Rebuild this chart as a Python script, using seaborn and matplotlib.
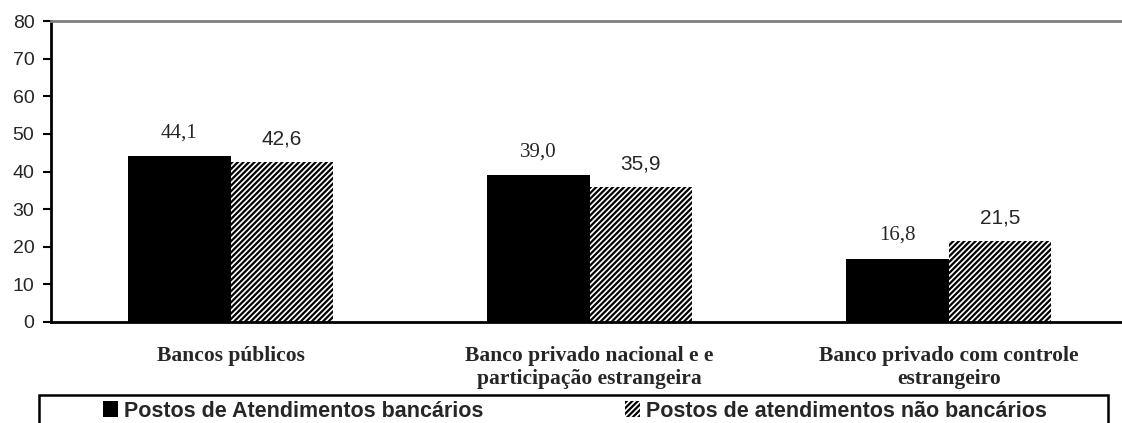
import pandas as pd
import matplotlib.pyplot as plt
import seaborn as sns
from matplotlib.patches import Patch, Rectangle

# dados
categorias = ['Bancos públicos',
              'Banco privado nacional e e\nparticipação estrangeira',
              'Banco privado com controle\nestrangeiro']
series = ['Postos de Atendimentos bancários', 'Postos de atendimentos não bancários']
bancarios = [44.1, 39.0, 16.8]
nao_bancarios = [42.6, 35.9, 21.5]

df = pd.DataFrame({
    'categoria': categorias * 2,
    'serie': [series[0]] * 3 + [series[1]] * 3,
    'valor': bancarios + nao_bancarios,
})

sns.set_style('white')
plt.rcParams['hatch.linewidth'] = 1.6

fig = plt.figure(figsize=(11.22, 4.23), dpi=100)
ax = fig.add_axes([0.0455, 0.239, 0.96, 0.711])

sns.barplot(data=df, x='categoria', y='valor', hue='serie', hue_order=series,
            palette=['black', 'white'], width=0.57, saturation=1,
            edgecolor='none', linewidth=0, ax=ax, legend=False)

# barras hachuradas para a segunda série
for p in ax.containers[1]:
    p.set_hatch('//////')
    p.set_edgecolor('black')
    p.set_linewidth(0)

# rótulos de valor
for v, p in zip(bancarios, ax.containers[0]):
    ax.text(p.get_x() + p.get_width() / 2, v + 3.7, f'{v:.1f}'.replace('.', ','),
            ha='center', va='bottom', fontsize=15, family='Liberation Serif')
for v, p in zip(nao_bancarios, ax.containers[1]):
    ax.text(p.get_x() + p.get_width() / 2, v + 3.5, f'{v:.1f}'.replace('.', ','),
            ha='center', va='bottom', fontsize=15, family='Liberation Sans')

ax.set_ylim(0, 80)
ax.set_xlim(-0.5, 2.5)
ax.set_yticks(range(0, 81, 10))
ax.set_yticklabels([str(t) for t in range(0, 81, 10)], fontsize=14, family='Liberation Sans')
ax.set_xticks([-0.5, 0.5, 1.5, 2.5])
ax.set_xticklabels([])
ax.set_xticks(range(3), minor=True)
ax.set_xticklabels(categorias, minor=True, fontsize=15.5, fontweight='bold',
                   family='Liberation Serif', linespacing=1.25)
ax.tick_params(axis='x', which='minor', length=0, pad=17)
ax.tick_params(axis='x', which='major', direction='out', length=6, width=1.5, color='black')
ax.tick_params(axis='y', direction='out', length=6, width=1.5, color='black', pad=6, left=True)
ax.set_xlabel('')
ax.set_ylabel('')

for s in ['left', 'bottom']:
    ax.spines[s].set_color('black')
    ax.spines[s].set_linewidth(2)
ax.spines['top'].set_color('#808080')
ax.spines['top'].set_linewidth(2)
ax.spines['right'].set_visible(False)

# legenda na parte de baixo (moldura desenhada à parte)
fig.patches.append(Rectangle((39 / 1122, -0.05), 1069 / 1122, 0.05 + 28 / 423,
                             transform=fig.transFigure, facecolor='white',
                             edgecolor='black', linewidth=1.8, zorder=0))
handles = [Patch(facecolor='black', edgecolor='none'),
           Patch(facecolor='white', edgecolor='black', hatch='//////', linewidth=0)]
leg = fig.legend(handles, series, loc='center', ncol=2,
                 bbox_to_anchor=(575 / 1122, 1 - 411 / 423),
                 prop={'family': 'Liberation Sans', 'weight': 'bold', 'size': 15.5},
                 frameon=False, handlelength=0.7, handleheight=0.7,
                 handletextpad=0.25, columnspacing=6.6, borderpad=0, borderaxespad=0)

plt.savefig('out.png', dpi=100)
